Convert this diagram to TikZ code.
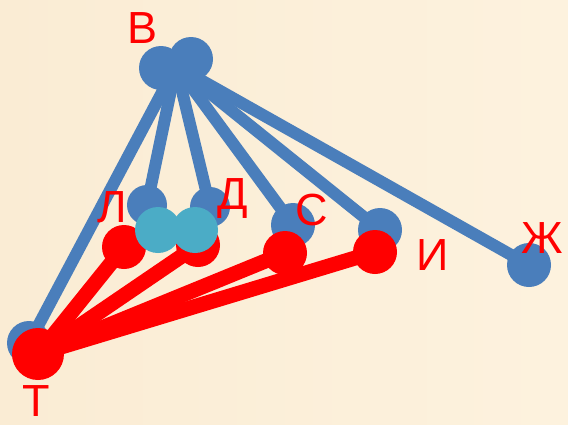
\documentclass[tikz,border=0pt]{standalone}
\usepackage{fontspec}
\setmainfont{Liberation Sans}
\pgfdeclarelayer{paper}
\pgfdeclarelayer{bluelines}
\pgfdeclarelayer{bluedots}
\pgfdeclarelayer{redlines}
\pgfsetlayers{paper,bluelines,bluedots,redlines,main}
\begin{document}
\begin{tikzpicture}[x=1pt,y=-1pt,
  blueline/.style={line width=12pt,draw=dotblue},
  redline/.style={line width=15pt,draw=red},
  bluedot/.style={circle,fill=dotblue,inner sep=0pt,minimum size=44pt},
  reddot/.style={circle,fill=red,inner sep=0pt,minimum size=44pt},
  tealdot/.style={circle,fill=dotteal,inner sep=0pt,minimum size=46pt},
  lbl/.style={text=red,font=\fontsize{45}{45}\selectfont,inner sep=0pt}]
\definecolor{dotblue}{HTML}{4A7EBB}
\definecolor{dotteal}{HTML}{4BACC6}
\definecolor{bgl}{HTML}{FAECD4}
\definecolor{bgr}{HTML}{FDF2DE}
% cream paper
\begin{pgfonlayer}{paper}
\shade[left color=bgl,right color=bgr] (0,0) rectangle (568,424);
\end{pgfonlayer}
\useasboundingbox (0,0) rectangle (568,424);

% blue dots: the double hub В and the ends of its fan
\begin{pgfonlayer}{bluedots}
\node[bluedot] (b1) at (161,68) {};
\node[bluedot] (b2) at (191,59) {};
\node[bluedot] (bT) at (29,343) {};
\node[bluedot,minimum size=40pt] (bL) at (147,205) {};
\node[bluedot,minimum size=40pt] (bD) at (210,207) {};
\node[bluedot] (bS) at (293,225) {};
\node[bluedot] (bI) at (380,230) {};
\node[bluedot] (bZ) at (529,265) {};
\end{pgfonlayer}
\coordinate (hub) at (176,66);

% blue fan from the hub
\begin{pgfonlayer}{bluelines}
\foreach \t in {bT,bL,bD,bS,bI,bZ}
  \draw[blueline] (hub) -- (\t.center);
\end{pgfonlayer}

% red dots and the red fan from Т
\node[reddot] (rL) at (124,247) {};
\node[reddot] (rD) at (198,245) {};
\node[reddot] (rS) at (285,253) {};
\node[reddot] (rI) at (375,252) {};
\node[reddot,minimum size=52pt] (rT) at (38,354) {};
\begin{pgfonlayer}{redlines}
\foreach \t in {rL,rD,rS,rI}
  \draw[redline] (rT.center) -- (\t.center);
\end{pgfonlayer}

% teal pair over Л and Д
\node[tealdot] (t1) at (158,230) {};
\node[tealdot] (t2) at (195,230) {};

% letters
\node[lbl] (lB) at (143,28) {В};
\node[lbl] (lL) at (112,207) {Л};
\node[lbl] (lD) at (233,198) {Д};
\node[lbl] (lS) at (312,210) {С};
\node[lbl] (lI) at (433,255) {И};
\node[lbl] (lZ) at (542,238) {Ж};
\node[lbl] (lT) at (36,401) {Т};
\end{tikzpicture}
\end{document}
